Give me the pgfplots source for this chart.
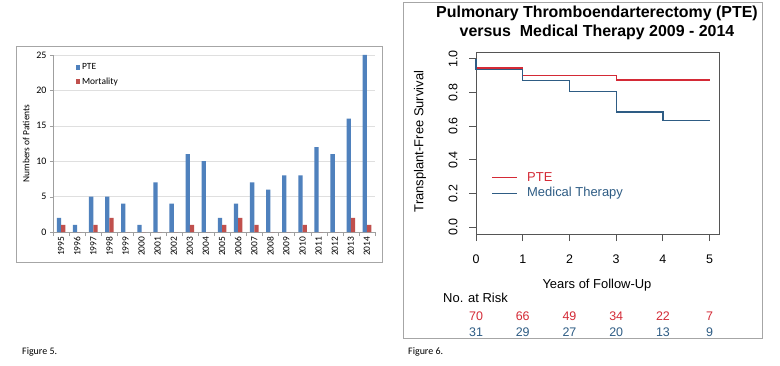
\documentclass[border=0pt]{standalone}
\usepackage{pgfplots}
\pgfplotsset{compat=1.18}
\usepackage{fontspec}
\setmainfont{Liberation Sans}
\newfontfamily\calibri{Carlito}
\definecolor{xlblue}{HTML}{4F81BD}
\definecolor{xlred}{HTML}{C0504D}
\definecolor{kmred}{HTML}{D42A36}
\definecolor{kmblue}{HTML}{2E5C84}
\definecolor{kmaxis}{HTML}{555555}
\begin{document}
\begin{tikzpicture}[x=1bp,y=1bp]
\path[use as bounding box, fill=white] (0,0) rectangle (780,365);
% ---------- Figure 5 ----------
\draw[gray!70, line width=0.8bp] (16,103) rectangle (382,319);
\begin{axis}[at={(53bp,133bp)}, anchor=south west, scale only axis,
  width=322bp, height=177bp,
  xmin=-0.5, xmax=19.5, ymin=0, ymax=25,
  ybar=0pt, bar width=4.3bp,
  axis x line*=bottom, axis y line*=left,
  axis line style={gray!75, -},
  xtick={0,...,19},
  xticklabels={1995,1996,1997,1998,1999,2000,2001,2002,2003,2004,2005,2006,2007,2008,2009,2010,2011,2012,2013,2014},
  major x tick style={draw=none},
  minor xtick={-0.5,0.5,...,19.5},
  minor x tick style={gray!75},
  ytick={0,5,10,15,20,25},
  y tick style={gray!75},
  tick align=outside, major tick length=3bp, minor tick length=4bp,
  ymajorgrids, grid style={gray!25},
  /pgf/number format/assume math mode=true,
  xticklabel style={rotate=90, anchor=east, font=\calibri\fontsize{9.5}{10}\selectfont, inner sep=1.5bp},
  yticklabel style={font=\calibri\fontsize{10}{11}\selectfont},
  ylabel={Numbers of Patients},
  ylabel style={font=\calibri\fontsize{9.5}{10}\selectfont},
  legend style={at={(0.06,0.975)}, anchor=north west, draw=none, fill=none,
    font=\calibri\fontsize{9.5}{10}\selectfont, row sep=2.5bp, cells={anchor=west}},
  legend image code/.code={\fill[#1] (0bp,-2.3bp) rectangle (4.6bp,2.3bp);},
  clip=false,
]
\addplot[fill=xlblue, draw=none] coordinates {
(0,2) (1,1) (2,5) (3,5) (4,4) (5,1) (6,7) (7,4) (8,11) (9,10)
(10,2) (11,4) (12,7) (13,6) (14,8) (15,8) (16,12) (17,11) (18,16) (19,25)};
\addlegendentry{PTE}
\addplot[fill=xlred, draw=none] coordinates {
(0,1) (1,0) (2,1) (3,2) (4,0) (5,0) (6,0) (7,0) (8,1) (9,0)
(10,1) (11,2) (12,1) (13,0) (14,0) (15,1) (16,0) (17,0) (18,2) (19,1)};
\addlegendentry{Mortality}
\end{axis}
\node[anchor=west, font=\calibri\fontsize{10}{12}\selectfont, inner sep=0] at (22,13) {Figure 5.};
% ---------- Figure 6 ----------
\draw[gray!70, line width=0.8bp] (403,27) rectangle (762,363);
\node[font=\bfseries\fontsize{16}{18}\selectfont] at (597,352) {Pulmonary Thromboendarterectomy (PTE)};
\node[font=\bfseries\fontsize{16}{18}\selectfont] at (597,333) {versus\ \ Medical Therapy 2009 - 2014};
\begin{axis}[at={(476bp,131bp)}, anchor=south west, scale only axis,
  width=243bp, height=182bp,
  xmin=0, xmax=5.2, ymin=-0.04, ymax=1.04,
  xtick={0,1,2,3,4,5}, ytick={0,0.2,0.4,0.6,0.8,1.0},
  xtick pos=left, ytick pos=left,
  tick align=outside, major tick length=7bp,
  axis line style={kmaxis, line width=0.9bp},
  tick style={kmaxis, line width=0.9bp},
  /pgf/number format/assume math mode=true,
  ticklabel style={font=\fontsize{12.5}{14}\selectfont},
  xticklabel style={yshift=-10bp},
  yticklabel style={rotate=90, anchor=south, yshift=8bp,
     /pgf/number format/.cd, fixed, fixed zerofill, precision=1},
  clip=false,
]
\addplot[kmred, line width=1.3bp, const plot] coordinates {
(0,1) (0,0.945) (1,0.899) (3,0.874) (5,0.874)};
\addplot[kmblue, line width=1.3bp, const plot] coordinates {
(0,1) (0,0.937) (1,0.872) (2,0.807) (3,0.684) (4,0.633) (5,0.633)};
% numbers at risk
\node[kmred, font=\fontsize{12.5}{14}\selectfont] at (axis cs:0,-0.527) {70};
\node[kmred, font=\fontsize{12.5}{14}\selectfont] at (axis cs:1,-0.527) {66};
\node[kmred, font=\fontsize{12.5}{14}\selectfont] at (axis cs:2,-0.527) {49};
\node[kmred, font=\fontsize{12.5}{14}\selectfont] at (axis cs:3,-0.527) {34};
\node[kmred, font=\fontsize{12.5}{14}\selectfont] at (axis cs:4,-0.527) {22};
\node[kmred, font=\fontsize{12.5}{14}\selectfont] at (axis cs:5,-0.527) {7};
\node[kmblue, font=\fontsize{12.5}{14}\selectfont] at (axis cs:0,-0.62) {31};
\node[kmblue, font=\fontsize{12.5}{14}\selectfont] at (axis cs:1,-0.62) {29};
\node[kmblue, font=\fontsize{12.5}{14}\selectfont] at (axis cs:2,-0.62) {27};
\node[kmblue, font=\fontsize{12.5}{14}\selectfont] at (axis cs:3,-0.62) {20};
\node[kmblue, font=\fontsize{12.5}{14}\selectfont] at (axis cs:4,-0.62) {13};
\node[kmblue, font=\fontsize{12.5}{14}\selectfont] at (axis cs:5,-0.62) {9};
\end{axis}
\node[rotate=90, font=\fontsize{13}{15}\selectfont] at (420,223.5) {Transplant-Free Survival};
\node[font=\fontsize{13}{15}\selectfont] at (597,80) {Years of Follow-Up};
\node[anchor=west, inner sep=0, font=\fontsize{13}{15}\selectfont] at (443,67) {No. at Risk};
\draw[kmred, line width=1bp] (492,188) -- (517,188);
\node[kmred, anchor=west, inner sep=0, font=\fontsize{13}{15}\selectfont] at (527,188) {PTE};
\draw[kmblue, line width=1bp] (492,172) -- (517,172);
\node[kmblue, anchor=west, inner sep=0, font=\fontsize{13}{15}\selectfont] at (527,172) {Medical Therapy};
\node[anchor=west, font=\calibri\fontsize{10}{12}\selectfont, inner sep=0] at (408,13) {Figure 6.};
\end{tikzpicture}
\end{document}
